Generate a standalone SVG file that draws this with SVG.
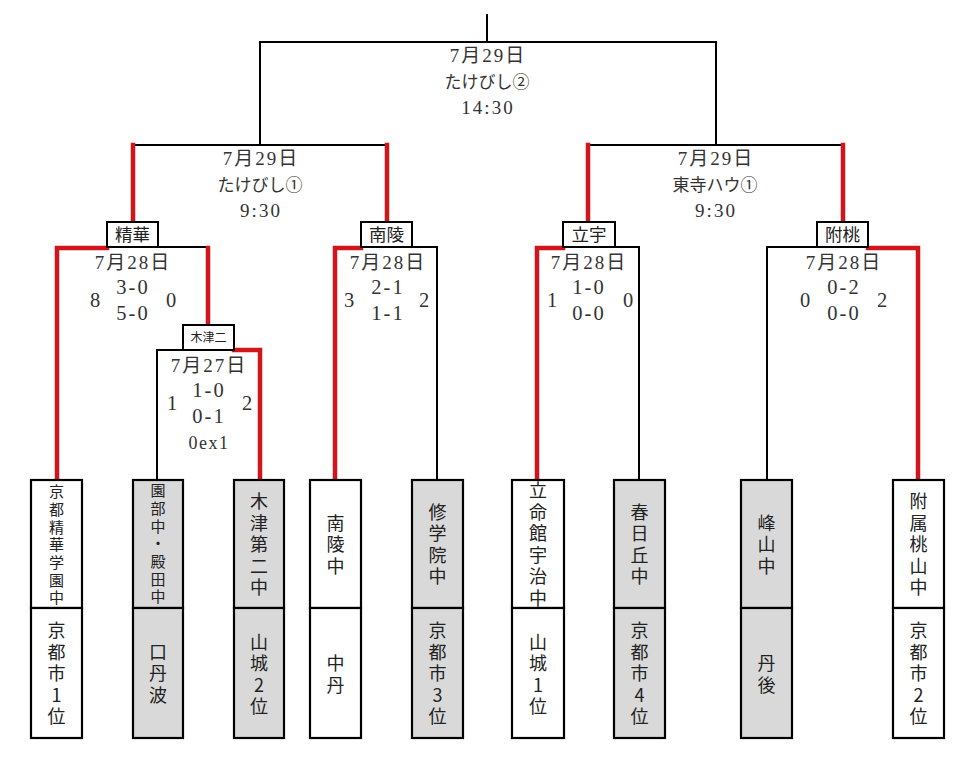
<svg xmlns="http://www.w3.org/2000/svg" width="975" height="770" viewBox="0 0 975 770">
<style>
.bl{stroke:#000;stroke-width:2;fill:none;stroke-linecap:square}
.rd{stroke:#d0161b;stroke-width:4.5;fill:none;stroke-linecap:square}
.lt{font-family:"Liberation Serif","Noto Sans CJK JP",serif;font-size:19px;fill:#333;text-anchor:middle;letter-spacing:2px}
.kt{font-family:"Noto Sans CJK JP",sans-serif;font-size:17px;fill:#333;text-anchor:middle}
.sc{font-family:"Liberation Serif","Noto Sans CJK JP",serif;font-size:20.5px;fill:#333;text-anchor:middle;letter-spacing:2px}
.sn{font-family:"Liberation Serif","Noto Sans CJK JP",serif;font-size:20.5px;fill:#333;text-anchor:middle}
.lb{fill:#fff;stroke:#000;stroke-width:2}
.lbt{font-family:"Noto Sans CJK JP",sans-serif;font-size:17.5px;fill:#222;text-anchor:middle}
.wb{fill:#fff;stroke:#000;stroke-width:2.2}
.gb{fill:#d9d9d9;stroke:#000;stroke-width:2.2}
.vt{font-family:"Noto Sans CJK JP",sans-serif;font-size:18px;fill:#222;text-anchor:middle;writing-mode:vertical-rl;text-orientation:upright;letter-spacing:3.5px}
.vs{font-family:"Noto Sans CJK JP",sans-serif;font-size:15px;fill:#222;text-anchor:middle;writing-mode:vertical-rl;text-orientation:upright;letter-spacing:2.7px}
</style>
<rect width="975" height="770" fill="#fff"/>
<g id="connectors">
<path class="bl" d="M487 15V42M260 145V42H716V145M133 145H387M588 145H843"/>
<path class="bl" d="M158 247H208M157 480V350H183M412 247H437V480M615 247H639V480M817 247H767V480"/>
<path class="rd" d="M133 145V222M387 145V222M588 145V222M843 145V222"/>
<path class="rd" d="M107 248H57V480M208 248V325M234 350H260V480M361 248H335V480M563 248H537V480M868 248H918V480"/>
</g>
<g id="final-label">
<text class="lt" x="488" y="62">7月29日</text>
<text class="kt" x="487" y="88">たけびし②</text>
<text class="lt" x="488" y="114">14:30</text>
</g>
<g id="semi-left-label">
<text class="lt" x="261" y="165">7月29日</text>
<text class="kt" x="260" y="191">たけびし①</text>
<text class="lt" x="261" y="217">9:30</text>
</g>
<g id="semi-right-label">
<text class="lt" x="716" y="165">7月29日</text>
<text class="kt" x="715" y="191">東寺ハウ①</text>
<text class="lt" x="716" y="217">9:30</text>
</g>
<g id="node-seika">
<rect class="lb" x="107" y="222" width="51" height="25"/>
<text class="lbt" x="132.5" y="241">精華</text>
<text class="lt" x="133" y="269">7月28日</text>
<text class="sc" x="133" y="294">3-0</text>
<text class="sc" x="133" y="320">5-0</text>
<text class="sn" x="95" y="307">8</text>
<text class="sn" x="171" y="307">0</text>
</g>
<g id="node-kizu2">
<rect class="lb" x="183" y="325" width="51" height="25"/>
<text class="lbt" x="208.5" y="342" style="font-size:12px">木津二</text>
<text class="lt" x="209" y="372">7月27日</text>
<text class="sc" x="209" y="397">1-0</text>
<text class="sc" x="209" y="423">0-1</text>
<text class="sn" x="209" y="449" style="font-size:18px;letter-spacing:1.5px">0ex1</text>
<text class="sn" x="172" y="410">1</text>
<text class="sn" x="247" y="410">2</text>
</g>
<g id="node-nanryo">
<rect class="lb" x="361" y="222" width="51" height="25"/>
<text class="lbt" x="386.5" y="241">南陵</text>
<text class="lt" x="388" y="269">7月28日</text>
<text class="sc" x="388" y="294">2-1</text>
<text class="sc" x="388" y="320">1-1</text>
<text class="sn" x="349" y="307">3</text>
<text class="sn" x="424" y="307">2</text>
</g>
<g id="node-ritsuu">
<rect class="lb" x="563" y="222" width="52" height="25"/>
<text class="lbt" x="589" y="241">立宇</text>
<text class="lt" x="589" y="269">7月28日</text>
<text class="sc" x="589" y="294">1-0</text>
<text class="sc" x="589" y="320">0-0</text>
<text class="sn" x="552" y="307">1</text>
<text class="sn" x="628" y="307">0</text>
</g>
<g id="node-fuzoku">
<rect class="lb" x="817" y="222" width="51" height="25"/>
<text class="lbt" x="842.5" y="241">附桃</text>
<text class="lt" x="844" y="269">7月28日</text>
<text class="sc" x="844" y="294">0-2</text>
<text class="sc" x="844" y="320">0-0</text>
<text class="sn" x="805" y="307">0</text>
<text class="sn" x="882" y="307">2</text>
</g>
<g id="team-1">
<rect class="wb" x="31" y="480" width="51" height="128"/>
<rect class="wb" x="31" y="608" width="51" height="130"/>
<text class="vs" x="56.5" y="546">京都精華学園中</text>
<text class="vt" x="56.5" y="675">京都市1位</text>
</g>
<g id="team-2">
<rect class="gb" x="133" y="480" width="50" height="128"/>
<rect class="gb" x="133" y="608" width="50" height="130"/>
<text class="vs" x="158" y="545">園部中・殿田中</text>
<text class="vt" x="158" y="675">口丹波</text>
</g>
<g id="team-3">
<rect class="gb" x="234" y="480" width="50" height="128"/>
<rect class="gb" x="234" y="608" width="50" height="130"/>
<text class="vt" x="259" y="546">木津第二中</text>
<text class="vt" x="259" y="676">山城2位</text>
</g>
<g id="team-4">
<rect class="wb" x="310" y="480" width="51" height="128"/>
<rect class="wb" x="310" y="608" width="51" height="130"/>
<text class="vt" x="335.5" y="546">南陵中</text>
<text class="vt" x="335.5" y="676">中丹</text>
</g>
<g id="team-5">
<rect class="gb" x="412" y="480" width="51" height="128"/>
<rect class="gb" x="412" y="608" width="51" height="130"/>
<text class="vt" x="437.5" y="546">修学院中</text>
<text class="vt" x="437.5" y="675">京都市3位</text>
</g>
<g id="team-6">
<rect class="wb" x="512" y="480" width="52" height="128"/>
<rect class="wb" x="512" y="608" width="52" height="130"/>
<text class="vt" x="538" y="546">立命館宇治中</text>
<text class="vt" x="538" y="676">山城1位</text>
</g>
<g id="team-7">
<rect class="gb" x="614" y="480" width="51" height="128"/>
<rect class="gb" x="614" y="608" width="51" height="130"/>
<text class="vt" x="639.5" y="546">春日丘中</text>
<text class="vt" x="639.5" y="675">京都市4位</text>
</g>
<g id="team-8">
<rect class="gb" x="741" y="480" width="51" height="128"/>
<rect class="gb" x="741" y="608" width="51" height="130"/>
<text class="vt" x="766.5" y="546">峰山中</text>
<text class="vt" x="766.5" y="676">丹後</text>
</g>
<g id="team-9">
<rect class="wb" x="893" y="480" width="51" height="128"/>
<rect class="wb" x="893" y="608" width="51" height="130"/>
<text class="vt" x="918.5" y="546">附属桃山中</text>
<text class="vt" x="918.5" y="675">京都市2位</text>
</g>
</svg>
